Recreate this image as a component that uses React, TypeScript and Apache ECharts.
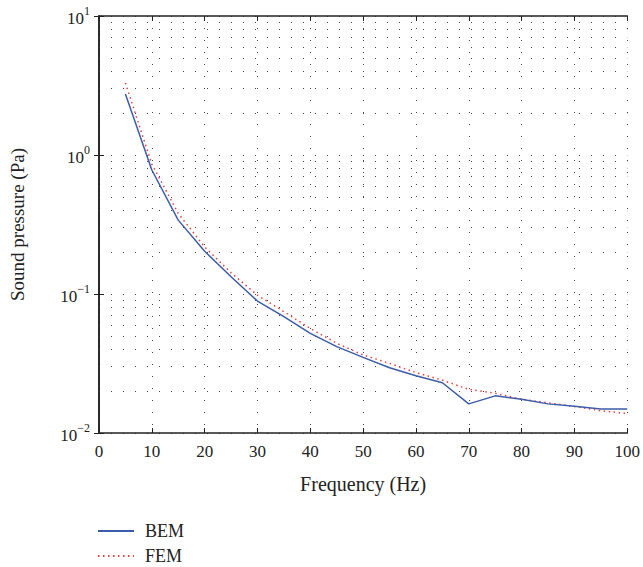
import React, { useEffect, useRef } from "react";
import * as echarts from "echarts";

const freqs = [5, 10, 15, 20, 25, 30, 35, 40, 45, 50, 55, 60, 65, 70, 75, 80, 85, 90, 95, 100];
const bem = [2.75, 0.78, 0.34, 0.203, 0.133, 0.089, 0.0687, 0.0521, 0.0418, 0.035, 0.0295, 0.0258, 0.023, 0.0162, 0.0185, 0.0175, 0.0162, 0.01556, 0.0149, 0.0149];
const fem = [3.3, 0.86, 0.38, 0.218, 0.142, 0.098, 0.0746, 0.0566, 0.0442, 0.0364, 0.0317, 0.0272, 0.024, 0.0206, 0.0193, 0.0175, 0.0165, 0.0155, 0.01445, 0.0138];
const decades = [0.01, 0.1, 1];
const minorMultiples = [2, 3, 4, 5, 6, 7, 8, 9];

const FONT = "'Liberation Serif', 'DejaVu Serif', serif";

export default function App() {
  const ref = useRef<HTMLDivElement>(null);
  useEffect(() => {
    document.body.style.margin = "0";
    if (!ref.current) return;
    const chart = echarts.init(ref.current, undefined, { renderer: "svg" });
    const minorLines: any[] = [];
    decades.forEach((d) => minorMultiples.forEach((m) => minorLines.push({ yAxis: +(d * m).toPrecision(6) })));
    const gridDot = { color: "#444", width: 1, type: [1, 11] as any };
    const axisLine = { show: true, lineStyle: { color: "#222", width: 1.6 } };
    const tick = { show: true, inside: true, length: 5, lineStyle: { color: "#222", width: 1 } };
    chart.setOption({
      animation: false,
      textStyle: { fontFamily: FONT },
      grid: { left: 99, top: 16, width: 529, height: 417, containLabel: false },
      legend: {
        orient: "vertical",
        left: 97,
        top: 522,
        padding: 0,
        itemWidth: 36,
        itemHeight: 14,
        itemGap: 7,
        itemStyle: { opacity: 0 },
        textStyle: { fontFamily: FONT, fontSize: 18, lineHeight: 16, color: "#222", padding: [0, 0, 0, 6] },
        data: ["BEM", "FEM"],
      },
      xAxis: [
        {
          type: "value",
          min: 0,
          max: 100,
          interval: 10,
          name: "Frequency (Hz)",
          nameLocation: "middle",
          nameGap: 41,
          nameTextStyle: { fontFamily: FONT, fontSize: 20, color: "#222" },
          axisLine,
          axisTick: tick,
          axisLabel: { fontFamily: FONT, fontSize: 17, color: "#222", margin: 10 },
          splitLine: { show: true, lineStyle: gridDot },
        },
        {
          type: "value",
          position: "top",
          min: 0,
          max: 100,
          interval: 10,
          axisLine,
          axisTick: tick,
          axisLabel: { show: false },
          splitLine: { show: false },
        },
      ],
      yAxis: [
        {
          type: "log",
          logBase: 10,
          min: 0.01,
          max: 10,
          name: "Sound pressure (Pa)",
          nameLocation: "middle",
          nameGap: 72,
          nameTextStyle: { fontFamily: FONT, fontSize: 19, color: "#222" },
          axisLine,
          axisTick: tick,
          axisLabel: {
            margin: 9,
            formatter: (v: number) => {
              const e = String(Math.round(Math.log10(v))).replace("-", "\u2212");
              return "{b|10}{s|" + e + "}";
            },
            rich: {
              b: { fontFamily: FONT, fontSize: 17, color: "#222", lineHeight: 22, verticalAlign: "bottom" },
              s: { fontFamily: FONT, fontSize: 12, color: "#222", lineHeight: 22, verticalAlign: "top", padding: [0, 0, 10, 0] },
            },
          },
          splitLine: { show: true, lineStyle: gridDot },
        },
        {
          type: "log",
          logBase: 10,
          min: 0.01,
          max: 10,
          position: "right",
          axisLine,
          axisTick: tick,
          axisLabel: { show: false },
          splitLine: { show: false },
        },
      ],
      series: [
        {
          name: "BEM",
          type: "line",
          data: freqs.map((f, i) => [f, bem[i]]),
          showSymbol: false,
          symbol: "none",
          lineStyle: { color: "#3b5ca9", width: 1.5 },
          itemStyle: { color: "#3b5ca9" },
          z: 4,
          markLine: {
            silent: true,
            symbol: "none",
            label: { show: false },
            lineStyle: gridDot,
            data: minorLines,
            z: 1,
          },
        },
        {
          name: "FEM",
          type: "line",
          data: freqs.map((f, i) => [f, fem[i]]),
          showSymbol: false,
          symbol: "none",
          lineStyle: { color: "#e8413c", width: 1.5, type: [1.5, 3.5] as any },
          itemStyle: { color: "#e8413c" },
          z: 3,
        },
      ],
    });
    return () => chart.dispose();
  }, []);
  return <div ref={ref} style={{ width: 643, height: 567 }} />;
}
